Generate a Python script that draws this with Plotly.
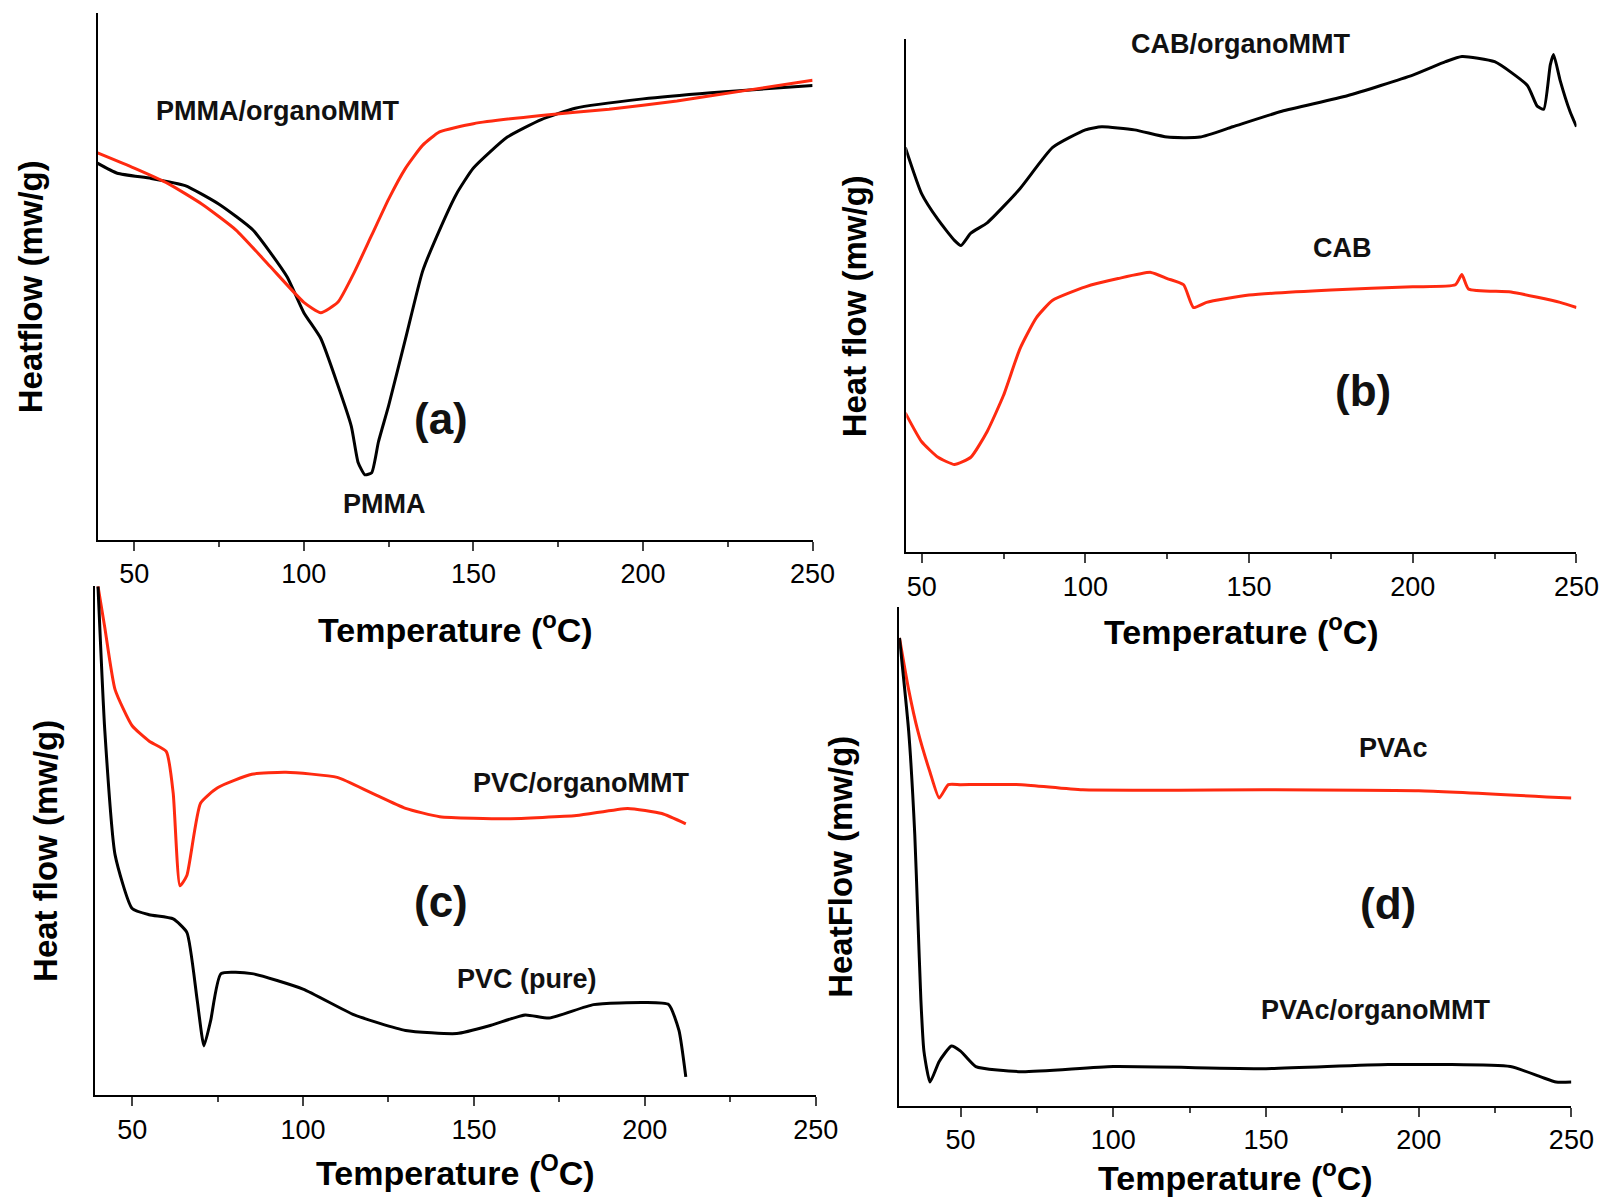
import plotly.graph_objects as go

W0, H0 = 1568.0, 1160.0
def fx(px): return px / W0
def fy(py): return 1 - py / H0

# Panel (a) temperatures / heat flow (arbitrary units)
a_black_T = [39,45,55,65,75,85,95,100,105,110,114,116,118,120,122,125,130,135,140,145,150,160,170,180,200,220,250]
a_black_H = [365,355,350,343,325,300,255,220,195,150,110,75,63,65,95,130,195,260,300,335,360,390,407,418,427,433,440]
a_red_T = [39,50,60,70,80,90,100,105,110,115,120,125,130,135,140,150,170,190,210,230,250]
a_red_H = [375,360,345,325,300,265,230,220,230,260,295,330,360,382,395,403,411,417,425,435,445]

b_black_T = [45,50,55,60,62,65,70,80,90,100,105,115,125,135,145,160,180,200,210,215,225,235,238,240,242,243,245,248,250]
b_black_H = [392,347,322,302,297,309,319,352,392,409,412,409,402,402,412,427,442,462,475,480,475,452,432,429,472,482,457,427,412]
b_red_T = [45,50,55,60,65,70,75,80,85,90,100,110,120,125,130,133,137,150,175,200,213,215,217,230,245,250]
b_red_H = [135,107,92,85,92,117,152,197,227,244,257,265,271,265,259,237,242,249,254,257,259,269,255,252,242,237]

c_red_T = [40,42,45,50,55,60,62,64,66,70,75,85,95,110,120,130,140,160,180,195,205,212]
c_red_H = [493,453,393,358,343,333,293,203,213,283,298,311,313,308,293,278,270,268,271,278,273,263]
c_black_T = [40,42,45,50,55,62,66,69,71,73,76,85,100,115,130,145,155,165,172,185,200,207,210,212]
c_black_H = [493,353,233,181,175,171,158,93,48,73,118,118,103,78,63,60,68,78,75,88,90,88,63,18]

d_red_T = [30,33,36,40,43,46,50,70,90,150,200,250]
d_red_H = [453,403,363,323,298,311,311,311,306,306,305,298]
d_black_T = [30,33,35,36,37,38,40,43,47,50,55,70,100,150,190,230,240,245,250]
d_black_H = [453,363,263,183,103,53,23,43,58,53,38,33,38,36,40,38,28,23,23]

xticks = [50,100,150,200,250]

panels = [
    (88, 790, 5, 515, 39.2, "Temperature (<sup>o</sup>C)", "Heatflow (mw/g)", 22, 545, 600,
     [(a_black_T, a_black_H, "black"), (a_red_T, a_red_H, "#ff2a10")]),
    (882, 1540, 30, 527, 45.3, "Temperature (<sup>o</sup>C)", "Heat flow (mw/g)", 832, 557, 602,
     [(b_black_T, b_black_H, "black"), (b_red_T, b_red_H, "#ff2a10")]),
    (85, 793, 560, 1053, 39.0, "Temperature (<sup>O</sup>C)", "Heat flow (mw/g)", 37, 1083, 1126,
     [(c_red_T, c_red_H, "#ff2a10"), (c_black_T, c_black_H, "black")]),
    (875, 1535, 580, 1063, 29.9, "Temperature (<sup>o</sup>C)", "HeatFlow (mw/g)", 818, 1092, 1130,
     [(d_red_T, d_red_H, "#ff2a10"), (d_black_T, d_black_H, "black")]),
]

fig = go.Figure()
anns = []
for i, (l, r, t, b, xmin, xt, yl, ylx, tickpy, titpy, series) in enumerate(panels):
    k = "" if i == 0 else str(i + 1)
    for T, Hh, c in series:
        fig.add_trace(go.Scatter(x=T, y=Hh, mode="lines", line=dict(color=c, width=3, shape="spline", smoothing=0.5),
                                 xaxis="x" + k, yaxis="y" + k, showlegend=False, hoverinfo="skip"))
    fig.layout["xaxis" + k] = dict(domain=[fx(l), fx(r)], range=[xmin, 250], anchor="y" + k,
        tickvals=xticks, ticks="outside", ticklen=9, tickwidth=2, showline=True, linewidth=2, linecolor="black",
        showgrid=False, zeroline=False, tickfont=dict(size=27, family="Arial"),
        minor=dict(tickvals=[75,125,175,225], ticks="outside", ticklen=5, tickwidth=2))
    fig.layout["yaxis" + k] = dict(domain=[fy(b), fy(t)], range=[0, b - t], anchor="x" + k,
        showticklabels=False, ticks="", showline=True, linewidth=2, linecolor="black", showgrid=False, zeroline=False)
    anns.append(dict(x=fx((l + r) / 2), y=fy(titpy), text="<b>" + xt + "</b>", showarrow=False,
                     xanchor="center", yanchor="middle",
                     font=dict(size=34, family="Arial"), xref="paper", yref="paper"))
    anns.append(dict(x=fx(ylx), y=fy((t + b) / 2 + 10), text="<b>" + yl + "</b>", textangle=-90, showarrow=False,
                     xanchor="center", yanchor="middle",
                     font=dict(size=33, family="Arial"), xref="paper", yref="paper"))

labels = [
    ("PMMA/organoMMT", 265, 100, 27), ("PMMA", 370, 480, 27), ("(a)", 425, 397, 44),
    ("CAB/organoMMT", 1210, 35, 27), ("CAB", 1310, 232, 27), ("(b)", 1330, 370, 44),
    ("PVC/organoMMT", 563, 750, 27), ("PVC (pure)", 510, 940, 27), ("(c)", 425, 865, 44),
    ("PVAc", 1360, 717, 27), ("PVAc/organoMMT", 1343, 970, 27), ("(d)", 1355, 867, 44),
]
for txt, px, py, s in labels:
    anns.append(dict(x=fx(px), y=fy(py), text="<b>" + txt + "</b>", showarrow=False,
                     xanchor="center", yanchor="middle",
                     font=dict(size=s, family="Arial", color="#111"), xref="paper", yref="paper"))

fig.update_layout(width=1620, height=1198, margin=dict(l=0, r=0, t=0, b=0),
                  plot_bgcolor="white", paper_bgcolor="white", annotations=anns,
                  font=dict(family="Arial", color="black"))
fig.write_html("out.html")
